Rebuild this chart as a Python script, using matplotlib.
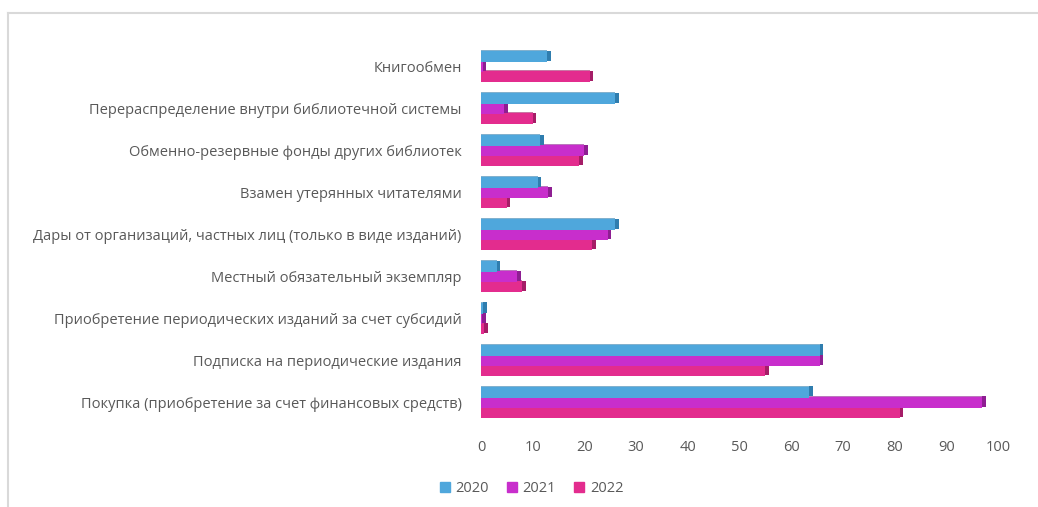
import matplotlib
matplotlib.use("Agg")
import matplotlib.pyplot as plt
import numpy as np
from matplotlib.patches import Rectangle
from matplotlib.lines import Line2D

plt.rcParams['font.family'] = ['Open Sans', 'DejaVu Sans']

categories = [
    "Покупка (приобретение за счет финансовых средств)",
    "Подписка на периодические издания",
    "Приобретение периодических изданий за счет субсидий",
    "Местный обязательный экземпляр",
    "Дары от организаций, частных лиц (только в виде изданий)",
    "Взамен утерянных читателями",
    "Обменно-резервные фонды других библиотек",
    "Перераспределение внутри библиотечной системы",
    "Книгообмен",
]
years = ["2020", "2021", "2022"]
v2020 = [63.5, 65.5, 0.4, 3, 26, 11, 11.5, 26, 12.8]
v2021 = [97, 65.5, 0.2, 7, 24.5, 13, 20, 4.5, 0.3]
v2022 = [81, 55, 0.6, 8, 21.5, 5, 19, 10, 21]
xticks = [0, 10, 20, 30, 40, 50, 60, 70, 80, 90, 100]

colors = ["#4FA7DC", "#C82ECC", "#E32C8E"]
dark = ["#2F7DAE", "#8E1E92", "#A51D67"]

fig = plt.figure(figsize=(10.38, 5.07), dpi=100)
ax = fig.add_axes([0.4634, 0.165, 0.498, 0.745])

y = np.arange(len(categories))
h = 0.24
offsets = [h, 0, -h]
series = [v2020, v2021, v2022]
# draw bottom series first so upper bars cover the top faces of lower ones
for i in [2, 1, 0]:
    vals = np.array(series[i])
    off = offsets[i]
    z = 2 + (2 - i) * 3
    # top face (3D look), sits just above the bar, hidden by the bar above where it overlaps
    ax.barh(y + off + h / 2 + 0.015, vals, height=0.05, color=dark[i], alpha=0.6,
            edgecolor='none', linewidth=0, zorder=z)
    # end cap
    ax.barh(y + off + 0.02, np.full(len(vals), 0.7), left=vals, height=h, color=dark[i],
            edgecolor='none', linewidth=0, zorder=z)
    ax.barh(y + off, vals, height=h + 0.01, color=colors[i], edgecolor='none',
            linewidth=0, label=years[i], zorder=z + 1)

ax.set_xlim(0, 100)
ax.set_ylim(-0.5, len(categories) - 0.5)
ax.set_yticks(y)
ax.set_yticklabels(categories, fontsize=10.5, color="#595959")
ax.set_xticks(xticks)
ax.set_xticklabels([str(t) for t in xticks], fontsize=10.5, color="#595959")
ax.tick_params(axis='both', length=0)
ax.tick_params(axis='y', pad=14)
ax.tick_params(axis='x', pad=12)
for sp in ax.spines.values():
    sp.set_visible(False)

handles = [Rectangle((0, 0), 1, 1, color=c) for c in colors]
fig.legend(handles, years, loc='center', bbox_to_anchor=(0.512, 0.036), ncol=3,
           frameon=False, fontsize=10.5, handlelength=0.7, handleheight=0.7,
           columnspacing=1.2, handletextpad=0.4, labelcolor="#595959")

# outer frame (top and left visible)
fig.add_artist(Line2D([8/1038, 1.0], [1 - 13/507, 1 - 13/507], color="#D9D9D9", lw=1.5,
                      transform=fig.transFigure))
fig.add_artist(Line2D([8/1038, 8/1038], [0, 1 - 13/507], color="#D9D9D9", lw=1.5,
                      transform=fig.transFigure))

fig.savefig("out.png", dpi=100)
